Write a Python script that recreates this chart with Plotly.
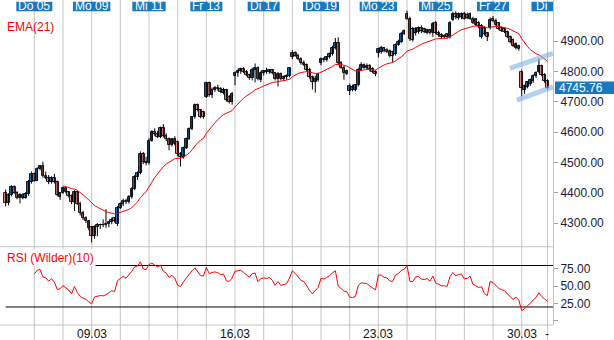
import numpy as np
import plotly.graph_objects as go

# ---------------- data: 10 bars per trading session, 04.03 - 30.03 ----------------
sessions = ["Mi 04", "Do 05", "Fr 06", "Mo 09", "Di 10", "Mi 11", "Do 12", "Fr 13", "Mo 16",
            "Di 17", "Mi 18", "Do 19", "Fr 20", "Mo 23", "Di 24", "Mi 25", "Do 26", "Fr 27", "Mo 30"]
BARS_PER_SESSION = 10

opens = [
    4398, 4365, 4392, 4418, 4400, 4382, 4394, 4384, 4396, 4436,
    4462, 4440, 4478, 4487, 4454, 4450, 4434, 4450, 4434, 4386,
    4398, 4414, 4402, 4390, 4368, 4402, 4364, 4332, 4318, 4306,
    4286, 4258, 4288, 4292, 4294, 4292, 4296, 4303, 4316, 4296,
    4350, 4362, 4374, 4368, 4386, 4412, 4452, 4464, 4528, 4500,
    4498, 4572, 4600, 4592, 4584, 4612, 4586, 4578, 4558, 4576,
    4566, 4526, 4518, 4548, 4578, 4610, 4648, 4688, 4672, 4666,
    4716, 4760, 4722, 4740, 4746, 4742, 4730, 4738, 4716, 4700,
    4786, 4796, 4800, 4808, 4798, 4788, 4778, 4806, 4812, 4772,
    4796, 4800, 4798, 4804, 4794, 4774, 4792, 4776, 4780, 4784,
    4846, 4862, 4852, 4842, 4826, 4822, 4806, 4782, 4764, 4770,
    4828, 4840, 4836, 4846, 4858, 4878, 4894, 4828, 4812, 4800,
    4734, 4740, 4738, 4754, 4806, 4812, 4812, 4818, 4808, 4798,
    4862, 4864, 4876, 4870, 4866, 4864, 4856, 4888, 4898, 4924,
    4990, 4974, 4940, 4926, 4930, 4944, 4940, 4928, 4936, 4926,
    4958, 4928, 4920, 4918, 4922, 4912, 4970, 4990, 4976, 4978,
    4990, 4986, 4974, 4974, 4972, 4960, 4914, 4944, 4926, 4944,
    4972, 4966, 4958, 4944, 4938, 4930, 4914, 4904, 4878, 4884,
    4798, 4740, 4750, 4758, 4768, 4784, 4798, 4816, 4788, 4768,
]
highs = [
    4410, 4398, 4425, 4424, 4405, 4398, 4398, 4402, 4442, 4470,
    4466, 4484, 4492, 4502, 4470, 4458, 4454, 4462, 4440, 4402,
    4420, 4418, 4405, 4394, 4408, 4406, 4370, 4340, 4322, 4310,
    4290, 4292, 4300, 4298, 4312, 4346, 4306, 4318, 4320, 4356,
    4368, 4380, 4380, 4392, 4418, 4458, 4470, 4536, 4534, 4518,
    4580, 4606, 4612, 4604, 4618, 4626, 4596, 4582, 4580, 4586,
    4572, 4534, 4552, 4582, 4615, 4652, 4694, 4694, 4676, 4670,
    4766, 4766, 4746, 4752, 4756, 4748, 4746, 4742, 4722, 4732,
    4800, 4806, 4812, 4814, 4804, 4792, 4812, 4826, 4816, 4800,
    4804, 4812, 4808, 4808, 4798, 4798, 4796, 4786, 4790, 4814,
    4870, 4866, 4858, 4846, 4836, 4826, 4812, 4786, 4786, 4796,
    4846, 4846, 4850, 4862, 4884, 4910, 4912, 4834, 4818, 4806,
    4760, 4756, 4758, 4812, 4830, 4826, 4826, 4824, 4814, 4804,
    4878, 4884, 4880, 4876, 4872, 4868, 4892, 4904, 4930, 4938,
    5000, 4980, 4946, 4946, 4948, 4952, 4944, 4940, 4940, 4962,
    4966, 4934, 4926, 4922, 4926, 4966, 4996, 4998, 4994, 4994,
    4996, 4994, 4994, 4980, 4976, 4966, 4956, 4948, 4930, 4978,
    4982, 4974, 4962, 4948, 4944, 4934, 4918, 4908, 4896, 4888,
    4806, 4756, 4768, 4776, 4790, 4800, 4842, 4822, 4794, 4774,
]
lows = [
    4355, 4358, 4388, 4396, 4378, 4365, 4378, 4380, 4390, 4430,
    4436, 4438, 4474, 4450, 4444, 4428, 4430, 4430, 4388, 4376,
    4396, 4398, 4384, 4362, 4340, 4360, 4325, 4310, 4300, 4276,
    4236, 4248, 4256, 4280, 4286, 4284, 4286, 4296, 4302, 4290,
    4346, 4356, 4362, 4364, 4380, 4408, 4442, 4460, 4494, 4490,
    4492, 4568, 4586, 4580, 4580, 4582, 4570, 4540, 4552, 4556,
    4520, 4486, 4512, 4544, 4574, 4606, 4644, 4668, 4645, 4644,
    4712, 4716, 4712, 4732, 4736, 4728, 4724, 4700, 4694, 4690,
    4754, 4782, 4792, 4794, 4784, 4772, 4770, 4764, 4770, 4764,
    4786, 4792, 4792, 4790, 4770, 4750, 4770, 4768, 4772, 4780,
    4840, 4848, 4836, 4822, 4818, 4800, 4776, 4740, 4730, 4766,
    4820, 4830, 4832, 4842, 4852, 4872, 4822, 4808, 4772, 4788,
    4722, 4734, 4734, 4750, 4802, 4808, 4806, 4800, 4794, 4784,
    4846, 4858, 4862, 4860, 4846, 4830, 4852, 4884, 4894, 4920,
    4970, 4900, 4898, 4918, 4924, 4926, 4926, 4922, 4922, 4914,
    4922, 4914, 4908, 4910, 4908, 4908, 4966, 4972, 4970, 4972,
    4970, 4972, 4970, 4956, 4950, 4942, 4908, 4918, 4900, 4938,
    4962, 4950, 4936, 4930, 4926, 4910, 4892, 4880, 4872, 4868,
    4718, 4726, 4744, 4752, 4762, 4778, 4794, 4784, 4762, 4740,
]
closes = [
    4365, 4392, 4418, 4400, 4382, 4394, 4384, 4396, 4436, 4462,
    4440, 4478, 4487, 4454, 4450, 4434, 4450, 4434, 4394, 4398,
    4414, 4402, 4390, 4368, 4402, 4364, 4332, 4318, 4306, 4282,
    4258, 4288, 4292, 4294, 4292, 4296, 4303, 4310, 4306, 4350,
    4362, 4374, 4368, 4386, 4412, 4452, 4464, 4528, 4500, 4498,
    4572, 4600, 4592, 4584, 4612, 4586, 4578, 4558, 4576, 4562,
    4526, 4518, 4548, 4578, 4610, 4648, 4688, 4672, 4650, 4648,
    4760, 4722, 4740, 4746, 4742, 4732, 4738, 4704, 4700, 4726,
    4796, 4800, 4808, 4798, 4788, 4778, 4806, 4812, 4774, 4796,
    4800, 4798, 4804, 4794, 4774, 4792, 4776, 4780, 4784, 4810,
    4862, 4852, 4842, 4826, 4822, 4806, 4782, 4764, 4776, 4790,
    4840, 4836, 4846, 4858, 4878, 4894, 4828, 4812, 4796, 4792,
    4752, 4750, 4754, 4806, 4822, 4820, 4818, 4808, 4798, 4790,
    4874, 4876, 4866, 4864, 4852, 4850, 4888, 4898, 4924, 4934,
    4974, 4906, 4904, 4940, 4944, 4932, 4930, 4936, 4926, 4956,
    4928, 4920, 4914, 4914, 4912, 4960, 4990, 4978, 4988, 4990,
    4974, 4976, 4988, 4960, 4954, 4948, 4950, 4922, 4912, 4970,
    4966, 4954, 4940, 4934, 4930, 4914, 4898, 4884, 4890, 4874,
    4744, 4752, 4764, 4772, 4786, 4796, 4816, 4788, 4768, 4745.76,
]

# session labels along the top and date labels along the bottom
top_labels = ["Do 05", "Mo 09", "Mi 11", "Fr 13", "Di 17", "Do 19", "Mo 23", "Mi 25", "Fr 27", "Di 31"]
top_label_bars = [10, 30, 50, 70, 90, 110, 130, 150, 170, 189]
date_ticks = ["09.03", "16.03", "23.03", "30.03", "-"]
date_tick_bars = [30, 80, 130, 180, 188.9]

price_ticks = [4300, 4400, 4500, 4600, 4700, 4800, 4900]
rsi_ticks = [0, 25, 50, 75]
rsi_tick_text = ["", "25.00", "50.00", "75.00"]
rsi_bands = [80, 20]

# hand-drawn trend channel on the last session: (bar0, price0, bar1, price1)
channel_upper = [175.9, 4810, 190.9, 4859]
channel_lower = [178.3, 4705, 190.9, 4749]

# ---------------- indicators ----------------
n = len(closes)
bars = np.arange(n)
o = np.array(opens, dtype=float)
c = np.array(closes, dtype=float)

EMA_N = 21
ema = np.full(n, np.nan)
ema[EMA_N - 1] = c[:EMA_N].mean()
k = 2.0 / (EMA_N + 1)
for t in range(EMA_N, n):
    ema[t] = c[t] * k + ema[t - 1] * (1 - k)

RSI_N = 10
d = np.diff(c)
gain = np.clip(d, 0, None)
loss = np.clip(-d, 0, None)
rsi = np.full(n, np.nan)
ag, al = gain[:RSI_N].mean(), loss[:RSI_N].mean()
rsi[RSI_N] = 100 - 100 / (1 + ag / al)
for t in range(RSI_N + 1, n):
    ag = (ag * (RSI_N - 1) + gain[t - 1]) / RSI_N
    al = (al * (RSI_N - 1) + loss[t - 1]) / RSI_N
    rsi[t] = 100 - 100 / (1 + ag / al) if al > 0 else 100

# ---------------- geometry ----------------
W, H = 614, 340
ML, MR, MT, MB = 0, 61, 0, 15
PW, PH = W - ML - MR, H - MT - MB
BAR_PX, FIRST_PX = 2.867, 5.65
x_lo = -FIRST_PX / BAR_PX
x_hi = (PW - FIRST_PX) / BAR_PX
split = 1 - 246.7 / PH
price_range = [4221.9, 5035.2]
rsi_range = [-6.07, 107.2]

FONT = "Arial, Liberation Sans, sans-serif"
BLUE = "#1878c0"
PINK = "#f08c8c"
GRID = "#c4c4c4"
RED = "#ff0000"

fig = go.Figure()

# wicks: one high-low segment per bar
wx, wy = [], []
for i in range(n):
    wx += [i, i, None]
    wy += [lows[i], highs[i], None]
fig.add_trace(go.Scatter(x=wx, y=wy, mode="lines", line=dict(color="#000000", width=1),
                         xaxis="x", yaxis="y", hoverinfo="skip", showlegend=False))

# bodies: open-close boxes, blue for rising bars, pink for falling bars
body_base = np.minimum(o, c)
body_len = np.maximum(np.abs(c - o), 0.8)
body_col = [BLUE if cc >= oo else PINK for oo, cc in zip(opens, closes)]
fig.add_trace(go.Bar(x=bars, y=body_len, base=body_base, width=0.9,
                     marker=dict(color=body_col, line=dict(color="#000000", width=0.9)),
                     xaxis="x", yaxis="y", hoverinfo="skip", showlegend=False))

fig.add_trace(go.Scatter(x=bars, y=ema, mode="lines", line=dict(color=RED, width=1),
                         xaxis="x", yaxis="y", hoverinfo="skip", showlegend=False))
fig.add_trace(go.Scatter(x=bars, y=rsi, mode="lines", line=dict(color=RED, width=1),
                         xaxis="x2", yaxis="y2", hoverinfo="skip", showlegend=False))

shapes = []
# session separators, running through both panels and the date row
grid_bars = [s * BARS_PER_SESSION for s in range(1, len(sessions))] + [n - 1]
for gx in grid_bars:
    shapes.append(dict(type="line", xref="x", yref="paper", x0=gx, x1=gx, y0=-MB / PH, y1=1,
                       line=dict(color=GRID, width=1), layer="below"))
# panel separator and bottom line
for yy in (split, 0):
    shapes.append(dict(type="line", xref="paper", yref="paper", x0=0, x1=1, y0=yy, y1=yy,
                       line=dict(color=GRID, width=1), layer="below"))
# RSI overbought / oversold lines
for lvl in rsi_bands:
    shapes.append(dict(type="line", xref="x2", yref="y2", x0=0, x1=x_hi, y0=lvl, y1=lvl,
                       line=dict(color="#000000", width=1), layer="below"))
# trend channel
for seg in (channel_upper, channel_lower):
    shapes.append(dict(type="line", xref="x", yref="y", x0=seg[0], y0=seg[1], x1=seg[2], y1=seg[3],
                       line=dict(color="rgba(130,175,228,0.6)", width=5), layer="above"))

# char widths (Arial, 12px) for sizing label boxes
CW = {"D": 8.67, "o": 6.67, "M": 10.0, "i": 2.67, "F": 7.33, "r": 4.0, " ": 3.33}
annotations = []
for lab, b in zip(top_labels, top_label_bars):
    tw = sum(CW.get(ch, 6.67) for ch in lab)
    half = (tw + 4) / 2 / BAR_PX
    shapes.append(dict(type="rect", xref="x", yref="paper", x0=b - half, x1=b + half,
                       y0=1 - 11.2 / PH, y1=1 - 1.7 / PH, fillcolor=BLUE, line=dict(width=0),
                       layer="above"))
    if b + half > x_hi:
        # box runs into the axis: only the visible part of the text
        annotations.append(dict(text=lab.split()[0], xref="x", yref="paper", x=b - half + 2 / BAR_PX,
                                xanchor="left", y=1 - 6.4 / PH, yanchor="middle", showarrow=False,
                                font=dict(family=FONT, size=12, color="white")))
    else:
        annotations.append(dict(text=lab, xref="x", yref="paper", x=b, xanchor="center",
                                y=1 - 6.4 / PH, yanchor="middle", showarrow=False,
                                font=dict(family=FONT, size=12, color="white")))

# date row below the RSI panel
for lab, b in zip(date_ticks, date_tick_bars):
    annotations.append(dict(text=lab, xref="x2", yref="paper", x=b, xanchor="center",
                            y=-8.6 / PH, yanchor="middle", showarrow=False,
                            font=dict(family=FONT, size=12, color="#111111")))

annotations.append(dict(text="EMA(21)", xref="paper", yref="paper", x=5 / PW, xanchor="left",
                        y=1 - 26.7 / PH, yanchor="middle", showarrow=False,
                        font=dict(family=FONT, size=12, color=RED)))
annotations.append(dict(text="RSI (Wilder)(10)", xref="paper", yref="paper", x=5 / PW, xanchor="left",
                        y=1 - 258 / PH, yanchor="middle", showarrow=False, bgcolor="white", borderpad=1,
                        font=dict(family=FONT, size=12, color=RED)))

# last price marker on the price axis
last = closes[-1]
half_h = 6.2 / (PH * (1 - split)) * (price_range[1] - price_range[0])
shapes.append(dict(type="rect", xref="paper", yref="y", x0=555 / PW, x1=W / PW,
                   y0=last - half_h, y1=last + half_h, fillcolor=BLUE, line=dict(width=0), layer="above"))
annotations.append(dict(text=f"{last:.2f}", xref="paper", yref="y", x=557 / PW, xanchor="left",
                        y=last, yanchor="middle", showarrow=False,
                        font=dict(family=FONT, size=12, color="white")))

fig.update_layout(
    width=W, height=H, margin=dict(l=ML, r=MR, t=MT, b=MB),
    paper_bgcolor="white", plot_bgcolor="white", showlegend=False, barmode="overlay", bargap=0,
    font=dict(family=FONT, size=12, color="#1a1a3a"),
    xaxis=dict(domain=[0, 1], range=[x_lo, x_hi], anchor="y", showticklabels=False, showgrid=False,
               zeroline=False, showline=False, ticks="", fixedrange=True),
    xaxis2=dict(domain=[0, 1], range=[x_lo, x_hi], anchor="y2", showgrid=False, zeroline=False,
                showline=False, ticks="", showticklabels=False),
    yaxis=dict(domain=[split, 1], range=price_range, anchor="x", side="right", showgrid=False,
               zeroline=False, showline=True, linecolor=GRID, linewidth=1, ticks="outside", ticklen=4,
               tickcolor="#a0a0a0", tickmode="array", tickvals=price_ticks,
               ticktext=[f"{v:.2f}" for v in price_ticks], tickfont=dict(family=FONT, size=12, color="#1a1a3a")),
    yaxis2=dict(domain=[0, split], range=rsi_range, anchor="x2", side="right", showgrid=False,
                zeroline=False, showline=True, linecolor=GRID, linewidth=1, ticks="outside", ticklen=4,
                tickcolor="#a0a0a0", tickmode="array", tickvals=rsi_ticks, ticktext=rsi_tick_text,
                tickfont=dict(family=FONT, size=12, color="#1a1a3a")),
    shapes=shapes, annotations=annotations,
)

fig.write_html("out.html")
